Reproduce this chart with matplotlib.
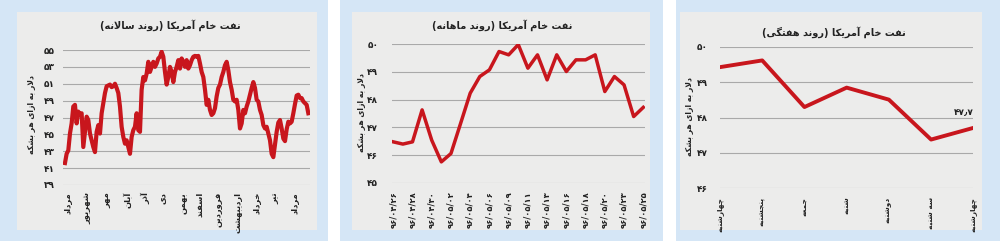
import matplotlib
matplotlib.use("Agg")
import matplotlib.pyplot as plt
from matplotlib.patches import Rectangle
import numpy as np

# ---------------- data ----------------
yearly_values = [
    41.6, 42.7, 43.1, 45.1, 46.3, 48.3, 48.5, 46.3, 47.7, 47.3,
    47.5, 43.5, 45.3, 47.1, 46.7, 45.1, 44.3, 43.5, 42.9, 45.3,
    46.1, 45.1, 47.5, 48.7, 49.9, 50.7, 50.8, 50.9, 50.6, 50.7,
    51.0, 50.5, 49.9, 48.3, 45.9, 44.7, 43.9, 44.3, 43.5, 42.7,
    44.7, 45.5, 45.9, 47.5, 45.5, 45.3, 50.3, 51.8, 51.4, 52.2,
    53.6, 52.4, 53.0, 53.6, 53.0, 53.4, 54.0, 54.2, 54.8, 54.2,
    52.4, 50.9, 51.8, 53.0, 52.4, 51.2, 52.4, 53.0, 53.8, 52.8,
    54.0, 53.6, 53.0, 53.8, 52.8, 53.2, 53.8, 54.2, 54.3, 54.2,
    54.3, 53.4, 52.4, 51.8, 50.3, 48.5, 49.1, 47.9, 47.3, 47.5,
    48.1, 49.5, 50.5, 50.9, 51.8, 52.4, 53.2, 53.6, 52.6, 51.2,
    50.3, 49.1, 48.9, 49.1, 47.9, 45.7, 46.3, 47.9, 47.5, 48.3,
    48.9, 49.7, 50.5, 51.2, 50.5, 49.1, 48.9, 47.9, 47.3, 46.1,
    45.7, 45.9, 45.1, 44.3, 42.7, 42.3, 43.8, 45.3, 46.4, 46.7,
    45.7, 44.5, 44.2, 45.6, 46.5, 46.3, 46.5, 47.5, 48.6, 49.6,
    49.7, 49.3, 49.3, 48.9, 48.7, 48.5, 47.5,
]
month_labels = ["مرداد", "شهریور", "مهر", "آبان", "آذر", "دی", "بهمن",
                "اسفند", "فروردین", "اردیبهشت", "خرداد", "تیر", "مرداد"]
month_tick_idx = [2, 13.4, 25.4, 38, 48.4, 59, 70.6, 81, 92, 104, 115, 126, 138]
yearly_yticks = [39, 41, 43, 45, 47, 49, 51, 53, 55]

monthly_values = [
    46.48, 46.40, 46.48, 47.63, 46.54, 45.76, 46.06, 47.14, 48.23,
    48.83, 49.07, 49.73, 49.61, 49.98, 49.13, 49.61, 48.71, 49.61,
    49.01, 49.43, 49.43, 49.61, 48.29, 48.83, 48.53, 47.39, 47.72,
]
monthly_labels = ["۹۶/۰۴/۲۶", "۹۶/۰۴/۲۸", "۹۶/۰۴/۳۰", "۹۶/۰۵/۰۲", "۹۶/۰۵/۰۴",
                  "۹۶/۰۵/۰۶", "۹۶/۰۵/۰۹", "۹۶/۰۵/۱۱", "۹۶/۰۵/۱۳", "۹۶/۰۵/۱۶",
                  "۹۶/۰۵/۱۸", "۹۶/۰۵/۲۰", "۹۶/۰۵/۲۳", "۹۶/۰۵/۲۵"]
monthly_yticks = [45, 46, 47, 48, 49, 50]

weekly_values = [49.43, 49.62, 48.30, 48.85, 48.51, 47.38, 47.71]
weekly_labels = ["چهارشنبه", "پنجشنبه", "جمعه", "شنبه", "دوشنبه", "سه شنبه", "چهارشنبه"]
weekly_yticks = [46, 47, 48, 49, 50]
weekly_last_label = "۴۷٫۷"

titles = ["نفت خام آمریکا (روند سالانه)",
          "نفت خام آمریکا (روند ماهانه)",
          "نفت خام آمریکا (روند هفتگی)"]
ylabel_text = "دلار به ازای هر بشکه"

# ---------------- minimal Persian shaping ----------------
FORMS = {  # isolated, final, initial, medial
    "\u0627": (0xFE8D, 0xFE8E, None, None),
    "\u0622": (0xFE81, 0xFE82, None, None),
    "\u0628": (0xFE8F, 0xFE90, 0xFE91, 0xFE92),
    "\u067E": (0xFB56, 0xFB57, 0xFB58, 0xFB59),
    "\u062A": (0xFE95, 0xFE96, 0xFE97, 0xFE98),
    "\u062C": (0xFE9D, 0xFE9E, 0xFE9F, 0xFEA0),
    "\u0686": (0xFB7A, 0xFB7B, 0xFB7C, 0xFB7D),
    "\u062E": (0xFEA5, 0xFEA6, 0xFEA7, 0xFEA8),
    "\u062F": (0xFEA9, 0xFEAA, None, None),
    "\u0630": (0xFEAB, 0xFEAC, None, None),
    "\u0631": (0xFEAD, 0xFEAE, None, None),
    "\u0632": (0xFEAF, 0xFEB0, None, None),
    "\u0633": (0xFEB1, 0xFEB2, 0xFEB3, 0xFEB4),
    "\u0634": (0xFEB5, 0xFEB6, 0xFEB7, 0xFEB8),
    "\u0639": (0xFEC9, 0xFECA, 0xFECB, 0xFECC),
    "\u0641": (0xFED1, 0xFED2, 0xFED3, 0xFED4),
    "\u06A9": (0xFB8E, 0xFB8F, 0xFB90, 0xFB91),
    "\u06AF": (0xFB92, 0xFB93, 0xFB94, 0xFB95),
    "\u0644": (0xFEDD, 0xFEDE, 0xFEDF, 0xFEE0),
    "\u0645": (0xFEE1, 0xFEE2, 0xFEE3, 0xFEE4),
    "\u0646": (0xFEE5, 0xFEE6, 0xFEE7, 0xFEE8),
    "\u0648": (0xFEED, 0xFEEE, None, None),
    "\u0647": (0xFEE9, 0xFEEA, 0xFEEB, 0xFEEC),
    "\u06CC": (0xFBFC, 0xFBFD, 0xFBFE, 0xFBFF),
}


def dual(c):
    return c in FORMS and FORMS[c][2] is not None


def shape(text):
    out = []
    i = 0
    n = len(text)
    while i < n:
        c = text[i]
        if c not in FORMS:
            out.append(c)
            i += 1
            continue
        prev_join = i > 0 and dual(text[i - 1])
        if c == "\u0644" and i + 1 < n and text[i + 1] in ("\u0627", "\u0622"):
            if text[i + 1] == "\u0627":
                out.append(chr(0xFEFC if prev_join else 0xFEFB))
            else:
                out.append(chr(0xFEF6 if prev_join else 0xFEF5))
            i += 2
            continue
        next_join = dual(c) and i + 1 < n and text[i + 1] in FORMS
        f = FORMS[c]
        if prev_join and next_join:
            g = f[3]
        elif prev_join:
            g = f[1]
        elif next_join:
            g = f[2]
        else:
            g = f[0]
        out.append(chr(g))
        i += 1
    s = "".join(out)[::-1]
    return s.translate(str.maketrans("()", ")("))


def fa_digits(v):
    return str(v).translate(str.maketrans("0123456789", "۰۱۲۳۴۵۶۷۸۹"))


# ---------------- figure ----------------
W, H = 1000, 241
fig = plt.figure(figsize=(W / 100, H / 100), dpi=100)
FONT = "DejaVu Sans"
BLUE = "#d5e6f6"
PANEL = "#ececeb"
RED = "#c8161d"
GRID = "#a9a9a9"
TXT = "#222222"


def rect_px(l, r, top, bottom):
    return [l / W, 1 - bottom / H, (r - l) / W, (bottom - top) / H]


# backgrounds (drawn beneath the axes)
for (bl, br), (gl, gr) in [((0, 328), (17, 317)), ((340, 663), (352, 650)), ((676, 1000), (680, 982))]:
    fig.patches.append(Rectangle((bl / W, 0), (br - bl) / W, 1, transform=fig.transFigure,
                                 facecolor=BLUE, edgecolor="none", zorder=-3))
    fig.patches.append(Rectangle((gl / W, 1 - 230 / H), (gr - gl) / W, (230 - 12) / H,
                                 transform=fig.transFigure, facecolor=PANEL, edgecolor="none", zorder=-2))


def style_axes(ax, yticks, ypad):
    ax.set_facecolor("none")
    for s in ax.spines.values():
        s.set_visible(False)
    ax.set_yticks(yticks)
    ax.set_yticklabels([fa_digits(v) for v in yticks], fontfamily=FONT,
                       fontweight="bold", fontsize=6.5, color=TXT)
    ax.tick_params(axis="both", length=0)
    ax.tick_params(axis="y", pad=ypad)
    ax.grid(axis="y", color=GRID, linewidth=0.8)
    ax.set_axisbelow(True)


# panel 1 (yearly)
ax1 = fig.add_axes(rect_px(63.3, 310.0, 50, 185))
x1 = np.arange(len(yearly_values))
ax1.plot(x1, yearly_values, color=RED, linewidth=3.0, solid_joinstyle="round")
ax1.set_xlim(-1, len(yearly_values))
ax1.set_ylim(39, 55)
style_axes(ax1, yearly_yticks, 6)
ax1.set_xticks(month_tick_idx)
ax1.set_xticklabels([shape(m) for m in month_labels], rotation=90, fontfamily=FONT,
                    fontweight="bold", fontsize=6, color=TXT)
ax1.tick_params(axis="x", pad=5)

# panel 2 (monthly)
ax2 = fig.add_axes(rect_px(392.3, 645.2, 44, 183))
x2 = np.arange(len(monthly_values))
ax2.plot(x2, monthly_values, color=RED, linewidth=2.5, solid_joinstyle="round")
ax2.set_xlim(-0.1, len(monthly_values) - 0.8)
ax2.set_ylim(45, 50)
style_axes(ax2, monthly_yticks, 10)
ax2.set_xticks(x2[::2])
ax2.set_xticklabels(monthly_labels, rotation=90, fontfamily=FONT,
                    fontweight="bold", fontsize=6, color=TXT)
ax2.tick_params(axis="x", pad=6)

# panel 3 (weekly)
ax3 = fig.add_axes(rect_px(720, 973.3, 47, 188.3))
x3 = np.arange(len(weekly_values))
ax3.plot(x3, weekly_values, color=RED, linewidth=2.8, solid_joinstyle="round")
ax3.set_xlim(0, len(weekly_values) - 1)
ax3.set_ylim(46, 50)
style_axes(ax3, weekly_yticks, 9)
ax3.set_xticks(x3)
ax3.set_xticklabels([shape(d) for d in weekly_labels], rotation=90, fontfamily=FONT,
                    fontweight="bold", fontsize=5.3, color=TXT)
ax3.tick_params(axis="x", pad=6)
ax3.annotate(weekly_last_label, xy=(x3[-1], weekly_values[-1]), xytext=(-7, 11),
             textcoords="offset points", ha="center", va="center",
             fontfamily=FONT, fontweight="bold", fontsize=6.5, color=TXT)

# titles & y labels
for (tx, ty), t in zip([(170, 25), (502, 25), (834, 32)], titles):
    fig.text(tx / W, 1 - ty / H, shape(t), ha="center", va="center", fontfamily=FONT,
             fontweight="bold", fontsize=7, color=TXT)
for (lx, ly) in [(31, 115), (361, 113), (689, 117)]:
    fig.text(lx / W, 1 - ly / H, shape(ylabel_text), rotation=90, ha="center", va="center",
             fontfamily=FONT, fontweight="bold", fontsize=5.5, color=TXT)

fig.savefig("out.png", dpi=100)
